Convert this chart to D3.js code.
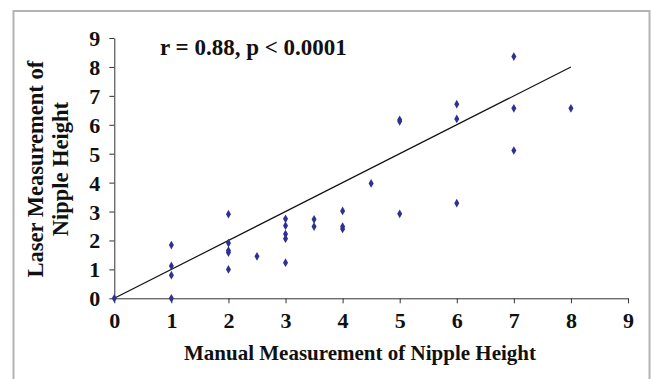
<!DOCTYPE html>
<html>
<head>
<meta charset="utf-8">
<script src="https://cdn.jsdelivr.net/npm/d3@7"></script>
<style>
  body { margin: 0; background: #fff; }
  text { font-family: "Liberation Serif", "Times New Roman", serif; font-weight: bold; fill: #111; }
</style>
</head>
<body>
<svg id="chart"></svg>
<script>
// manual vs laser nipple height
var manual = [0, 1, 1, 1, 1, 2, 2, 2, 2, 2, 2.5, 3, 3, 3, 3, 3, 3.5, 3.5, 4, 4, 4, 4.5, 5, 5, 5, 6, 6, 6, 7, 7, 7, 8];
var laser  = [0, 1.84, 1.12, 0.8, 0, 2.91, 1.91, 1.65, 1.58, 1.0, 1.45, 2.75, 2.51, 2.22, 2.06, 1.23, 2.73, 2.48, 3.02, 2.48, 2.4, 3.97, 6.17, 6.12, 2.92, 6.71, 6.2, 3.29, 8.36, 6.57, 5.11, 6.57];
var fitX = [0, 8];
var fitY = [0, 8];
var ticks = [0, 1, 2, 3, 4, 5, 6, 7, 8, 9];

var width = 651, height = 379;
var plotL = 114.3, plotR = 628, plotT = 38, plotB = 298.3;

var svg = d3.select("#chart")
    .attr("width", width)
    .attr("height", height);

// grey frame
svg.append("rect")
    .attr("x", 13.5).attr("y", 11)
    .attr("width", 636).attr("height", 380)
    .attr("fill", "none")
    .attr("stroke", "#b3b3b3")
    .attr("stroke-width", 2);

var x = d3.scaleLinear().domain([0, 9]).range([plotL, plotR]);
var y = d3.scaleLinear().domain([0, 9]).range([plotB, plotT]);

var xAxis = svg.append("g")
    .attr("transform", "translate(0," + plotB + ")")
    .call(d3.axisBottom(x).tickValues(ticks).tickSize(5).tickPadding(8).tickSizeOuter(0));
var yAxis = svg.append("g")
    .attr("transform", "translate(" + plotL + ",0)")
    .call(d3.axisLeft(y).tickValues(ticks).tickSize(5).tickPadding(9).tickSizeOuter(0));

[xAxis, yAxis].forEach(function(a) {
  a.attr("font-family", null).attr("font-size", null);
  a.selectAll("text").style("font-size", "22px");
  a.selectAll("path, line").attr("stroke", "#333");
});
xAxis.selectAll("text").attr("dy", "0.75em");
yAxis.selectAll("text").attr("dy", "0.34em");

// fit line
svg.append("line")
    .attr("x1", x(fitX[0])).attr("y1", y(fitY[0]))
    .attr("x2", x(fitX[1])).attr("y2", y(fitY[1]))
    .attr("stroke", "#111")
    .attr("stroke-width", 1.2);

var pts = manual.map(function(d, i) { return [d, laser[i]]; });
svg.selectAll("path.pt")
    .data(pts)
    .enter()
    .append("path")
    .attr("class", "pt")
    .attr("d", d3.symbol().type(d3.symbolDiamond).size(22))
    .attr("transform", function(d) {
      return "translate(" + x(d[0]) + "," + y(d[1]) + ")";
    })
    .attr("fill", "#2e3192");

svg.append("text")
    .attr("x", 160).attr("y", 55)
    .style("font-size", "23px")
    .text("r = 0.88, p < 0.0001");

svg.append("text")
    .attr("x", 360).attr("y", 360)
    .attr("text-anchor", "middle")
    .style("font-size", "21px")
    .text("Manual Measurement of Nipple Height");

var yt = svg.append("text")
    .attr("transform", "translate(43," + ((plotT + plotB) / 2 + 1) + ") rotate(-90)")
    .attr("text-anchor", "middle")
    .style("font-size", "22.5px");
yt.append("tspan").attr("x", 0).attr("y", 0).text("Laser Measurement of");
yt.append("tspan").attr("x", 0).attr("y", 25).text("Nipple Height");
</script>
</body>
</html>
